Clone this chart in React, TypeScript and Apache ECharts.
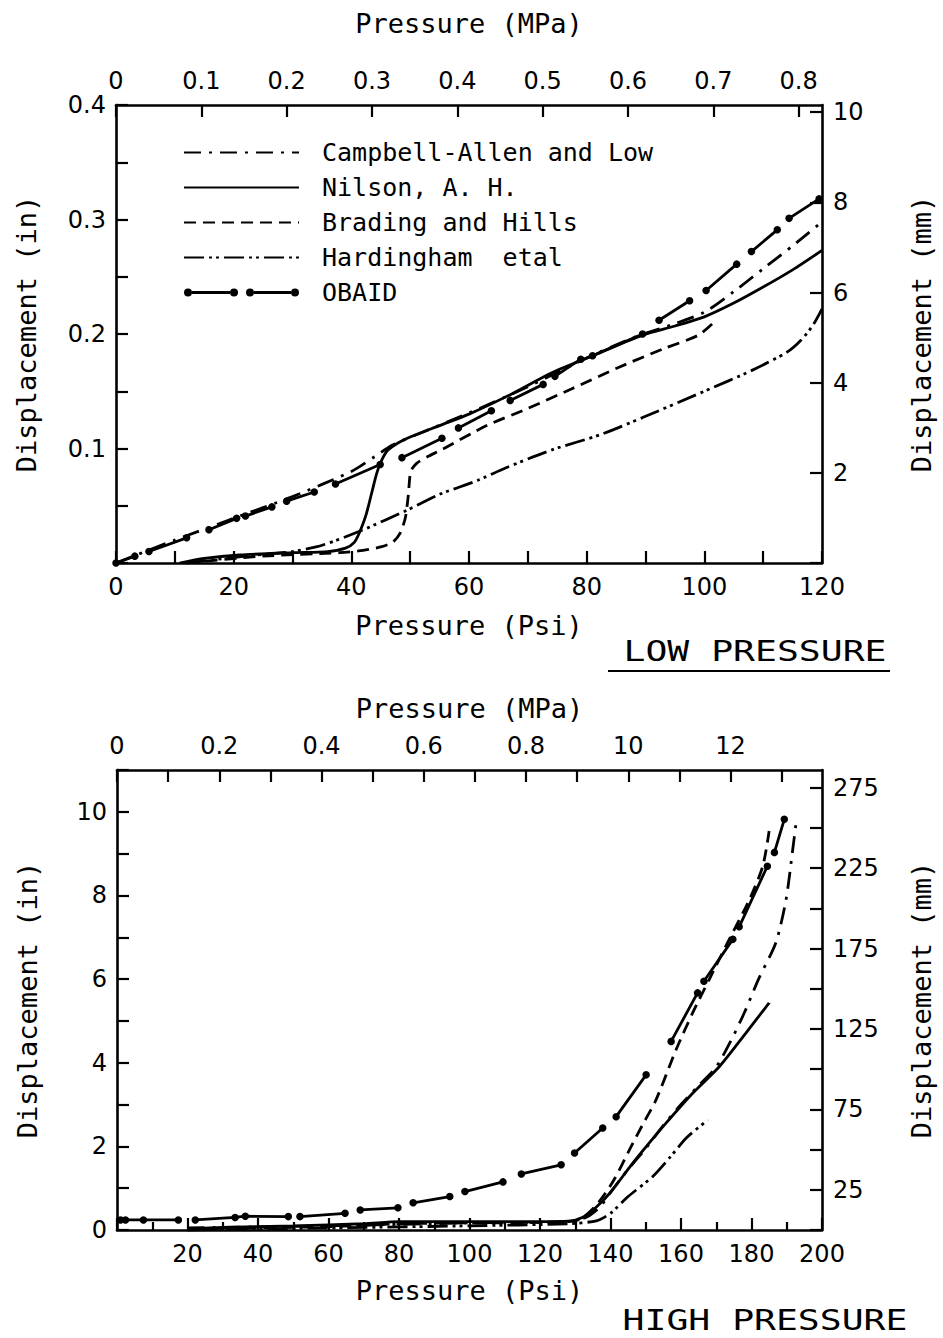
import React, { useEffect, useRef } from "react";
import * as echarts from "echarts";

// ---------- constants ----------
const PSI_PER_MPA = 145.038;
const MM_PER_IN = 25.4;

const seriesNames = [
  "Campbell-Allen and Low",
  "Nilson, A. H.",
  "Brading and Hills",
  "Hardingham  etal",
  "OBAID",
];

// axis ranges
const lowPsiMax = 120;
const lowInMax = 0.4;
const highPsiMax = 200;
const highInMax = 11;
const highMmMax = 286;

// tick labels
const lowMpaLabels = ["0", "0.1", "0.2", "0.3", "0.4", "0.5", "0.6", "0.7", "0.8"];
const highMpaLabels = ["0", "0.2", "0.4", "0.6", "0.8", "10", "12"];

// ---------- LOW PRESSURE data : [psi, in] ----------
const lowCampbell = [
  [0, 0], [10, 0.02], [20, 0.039], [30, 0.058], [40, 0.08], [44, 0.093], [47, 0.103],
  [52, 0.114], [60, 0.131], [70, 0.154], [80, 0.179], [88, 0.197], [95, 0.209],
  [100, 0.219], [105, 0.237], [110, 0.257], [115, 0.277], [120, 0.298],
];
const lowNilson = [
  [10.8, 0], [15, 0.004], [21, 0.007], [30, 0.009], [36, 0.01], [39, 0.013], [40.5, 0.018],
  [41.5, 0.028], [42.5, 0.042], [43.5, 0.062], [44.3, 0.078], [45, 0.088], [46.1, 0.098],
  [48, 0.105], [50, 0.11], [55, 0.12], [60, 0.13], [67, 0.147], [74, 0.166], [81.5, 0.182],
  [89.5, 0.199], [95, 0.207], [100, 0.215], [105, 0.227], [110, 0.241], [115, 0.256], [120, 0.273],
];
const lowBrading = [
  [12, 0], [25, 0.006], [38, 0.009], [42, 0.011], [45, 0.014], [47, 0.018], [48.3, 0.026],
  [49.2, 0.04], [49.7, 0.06], [50.1, 0.08], [51.1, 0.087], [53, 0.093], [55, 0.098],
  [63, 0.12], [70, 0.135], [77.4, 0.152], [85.5, 0.171], [93, 0.187], [99, 0.199], [102, 0.212],
];
const lowHardingham = [
  [12, 0], [22, 0.006], [30, 0.01], [34, 0.014], [37, 0.019], [42, 0.029], [49.4, 0.046],
  [55, 0.06], [61.4, 0.072], [66.2, 0.083], [74.2, 0.099], [82.3, 0.112], [89.5, 0.127],
  [100, 0.15], [108, 0.168], [114, 0.184], [116.5, 0.195], [118.5, 0.208], [120, 0.222],
];
// null = gap between the dotted segments
const lowObaid = [
  [0, 0], [3.2, 0.006], null,
  [5.6, 0.01], [12, 0.022], null,
  [15.8, 0.029], [20.5, 0.039], null,
  [22, 0.041], [26.5, 0.049], null,
  [29, 0.054], [33.7, 0.062], null,
  [37.3, 0.069], [44.9, 0.086], null,
  [48.6, 0.092], [55.4, 0.109], null,
  [58.2, 0.118], [63.8, 0.133], null,
  [67, 0.142], [72.6, 0.156], null,
  [74.6, 0.163], [79, 0.178], null,
  [81, 0.181], [89.5, 0.2], null,
  [92.3, 0.212], [97.5, 0.229], null,
  [100.3, 0.238], [105.5, 0.261], null,
  [108, 0.272], [112.4, 0.291], null,
  [114.4, 0.301], [119.5, 0.318],
];

// ---------- HIGH PRESSURE data : [psi, in] ----------
const highCampbell = [
  [20, 0.05], [60, 0.1], [100, 0.17], [128, 0.2], [133, 0.3], [137, 0.55], [140, 0.9],
  [145, 1.45], [150, 1.95], [155, 2.5], [160, 3.0], [165, 3.45], [170, 3.9], [174, 4.5],
  [178, 5.2], [182, 6.0], [186.9, 6.87], [189.8, 7.9], [191.7, 9.1], [192.6, 9.7],
];
const highNilson = [
  [20, 0.02], [30, 0.06], [50, 0.1], [70, 0.15], [80, 0.2], [100, 0.2], [120, 0.2],
  [128, 0.21], [132, 0.3], [136, 0.55], [140, 0.9], [145.4, 1.5], [150, 1.98],
  [155.8, 2.56], [163.3, 3.27], [170.9, 3.91], [178.4, 4.71], [185, 5.43],
];
const highBrading = [
  [20, 0], [40, 0.05], [60, 0.08], [80, 0.15], [100, 0.17], [120, 0.18], [130, 0.22],
  [133, 0.35], [137, 0.7], [141, 1.2], [145.4, 1.92], [149, 2.5], [152.9, 3.11],
  [158.6, 4.31], [163.3, 5.19], [168, 5.99], [173.2, 6.87], [179.4, 7.9], [183.2, 8.7], [185, 9.54],
];
const highHardingham = [
  [20, 0], [60, 0.05], [100, 0.1], [128, 0.15], [136, 0.22], [140, 0.4], [145, 0.8],
  [152, 1.28], [157, 1.75], [161.5, 2.2], [167.6, 2.63],
];
const highObaid = [
  [1, 0.24], [2.4, 0.24], [7.5, 0.24], [17.4, 0.24], null,
  [22.2, 0.24], [33.5, 0.3], [36.4, 0.33], [48.6, 0.32], null,
  [51.9, 0.32], [64.7, 0.4], null,
  [69, 0.48], [79.7, 0.53], null,
  [84, 0.65], [94.4, 0.8], null,
  [98.7, 0.92], [109.5, 1.15], null,
  [114.7, 1.34], [126, 1.56], null,
  [129.8, 1.84], [137.8, 2.44], null,
  [141.6, 2.71], [150.1, 3.71], null,
  [157.2, 4.51], [164.7, 5.67], null,
  [166.5, 5.95], [174.7, 6.95], null,
  [176.5, 7.25], [184.5, 8.7], null,
  [186.5, 9.03], [189.3, 9.82],
];

// ---------- styles ----------
const BLACK = "#000";
const FONT = "DejaVu Sans";
const MONO = "DejaVu Sans Mono";
const dashCampbell = [17, 8, 3, 8];
const dashBrading = [12, 7];
const dashHardingham = [20, 5, 3, 4, 3, 5];
const LW = 2.8;

const obaidIcon =
  "path://M0,4a4,4 0 1,0 8,0a4,4 0 1,0 -8,0Z M46,4a4,4 0 1,0 8,0a4,4 0 1,0 -8,0Z " +
  "M62,4a4,4 0 1,0 8,0a4,4 0 1,0 -8,0Z M107,4a4,4 0 1,0 8,0a4,4 0 1,0 -8,0Z " +
  "M8,2.6L46,2.6L46,5.4L8,5.4Z M70,2.6L107,2.6L107,5.4L70,5.4Z";

function toPairs(d: any[]) {
  return d.map((p) => (p === null ? [null, null] : p));
}

function curve(name: string, data: any[], xi: number, yi: number, type: any) {
  return {
    name,
    type: "line",
    xAxisIndex: xi,
    yAxisIndex: yi,
    data,
    symbol: "none",
    showSymbol: false,
    smooth: 0.25,
    lineStyle: { color: BLACK, width: LW, type, cap: "butt" },
    itemStyle: { color: BLACK },
    emphasis: { disabled: true },
  };
}

function obaid(data: any[], xi: number, yi: number) {
  return {
    name: seriesNames[4],
    type: "line",
    xAxisIndex: xi,
    yAxisIndex: yi,
    data: toPairs(data),
    symbol: "circle",
    symbolSize: 7.5,
    showSymbol: true,
    connectNulls: false,
    smooth: false,
    lineStyle: { color: BLACK, width: LW, type: "solid" },
    itemStyle: { color: BLACK, borderWidth: 0 },
    emphasis: { disabled: true },
  };
}

const axisLine = { show: true, onZero: false, lineStyle: { color: BLACK, width: 2.6 } };
const tick = (len: number) => ({ show: true, inside: true, length: len, lineStyle: { color: BLACK, width: 2.2 } });
const minor = (len: number) => ({ show: true, splitNumber: 2, length: len, lineStyle: { color: BLACK, width: 2.2 } });
const lbl = (formatter: any, margin: number) => ({
  show: true,
  color: BLACK,
  fontFamily: FONT,
  fontSize: 24,
  margin,
  formatter,
  showMaxLabel: true,
  showMinLabel: true,
  hideOverlap: false,
});
const nameStyle = { color: BLACK, fontFamily: MONO, fontSize: 27 };
const near = (a: number, b: number) => Math.abs(a - b) < 1e-6;

const lineOnly = { itemStyle: { opacity: 0 } };

const option: any = {
  animation: false,
  backgroundColor: "#fff",
  grid: [
    { left: 116, top: 105, width: 706, height: 458, containLabel: false },
    { left: 117, top: 770, width: 706, height: 460, containLabel: false },
  ],
  xAxis: [
    {
      gridIndex: 0, type: "value", position: "bottom", min: 0, max: lowPsiMax, interval: 20,
      axisLine, axisTick: tick(12), minorTick: minor(12), splitLine: { show: false },
      axisLabel: lbl((v: number) => String(v), 12),
      name: "Pressure (Psi)", nameLocation: "middle", nameGap: 49, nameTextStyle: nameStyle,
    },
    {
      gridIndex: 0, type: "value", position: "top", min: 0, max: lowPsiMax / PSI_PER_MPA, interval: 0.1,
      axisLine, axisTick: tick(12), splitLine: { show: false },
      axisLabel: {
        ...lbl((v: number) => {
          const i = Math.round(v / 0.1);
          return near(v, i * 0.1) && i < lowMpaLabels.length ? lowMpaLabels[i] : "";
        }, 12),
        showMaxLabel: false,
      },
      name: "Pressure (MPa)", nameLocation: "middle", nameGap: 68, nameTextStyle: nameStyle,
    },
    {
      gridIndex: 1, type: "value", position: "bottom", min: 0, max: highPsiMax, interval: 20,
      axisLine, axisTick: tick(12), minorTick: minor(8), splitLine: { show: false },
      axisLabel: lbl((v: number) => (v === 0 ? "" : String(v)), 12),
      name: "Pressure (Psi)", nameLocation: "middle", nameGap: 47, nameTextStyle: nameStyle,
    },
    {
      gridIndex: 1, type: "value", position: "top", min: 0, max: highPsiMax / PSI_PER_MPA, interval: 0.1,
      axisLine, axisTick: tick(12), splitLine: { show: false },
      axisLabel: {
        ...lbl((v: number) => {
          const i = Math.round(v / 0.2);
          return near(v, i * 0.2) && i < highMpaLabels.length ? highMpaLabels[i] : "";
        }, 12),
        showMaxLabel: false,
      },
      name: "Pressure (MPa)", nameLocation: "middle", nameGap: 48, nameTextStyle: nameStyle,
    },
  ],
  yAxis: [
    {
      gridIndex: 0, type: "value", position: "left", min: 0, max: lowInMax, interval: 0.1,
      axisLine, axisTick: tick(12), minorTick: minor(12), splitLine: { show: false },
      axisLabel: lbl((v: number) => (v === 0 ? "" : v.toFixed(1)), 10),
      name: "Displacement (in)", nameLocation: "middle", nameGap: 76, nameTextStyle: nameStyle,
    },
    {
      gridIndex: 0, type: "value", position: "right", min: 0, max: lowInMax * MM_PER_IN, interval: 2,
      axisLine, axisTick: tick(12), splitLine: { show: false },
      axisLabel: {
        ...lbl((v: number) => (v === 0 || !near(v, Math.round(v)) ? "" : String(v)), 11),
        showMaxLabel: false,
      },
      name: "Displacement (mm)", nameLocation: "middle", nameGap: 86, nameTextStyle: nameStyle,
    },
    {
      gridIndex: 1, type: "value", position: "left", min: 0, max: highInMax, interval: 2,
      axisLine, axisTick: tick(12), minorTick: minor(12), splitLine: { show: false },
      axisLabel: { ...lbl((v: number) => String(v), 10), showMaxLabel: false },
      name: "Displacement (in)", nameLocation: "middle", nameGap: 76, nameTextStyle: nameStyle,
    },
    {
      gridIndex: 1, type: "value", position: "right", min: 0, max: highMmMax, interval: 25,
      axisLine, axisTick: tick(12), splitLine: { show: false },
      axisLabel: {
        ...lbl((v: number) => (near(v % 50, 25) ? String(v) : ""), 11),
        showMaxLabel: false,
      },
      name: "Displacement (mm)", nameLocation: "middle", nameGap: 86, nameTextStyle: nameStyle,
    },
  ],
  legend: {
    show: true,
    orient: "vertical",
    left: 178,
    top: 135,
    itemWidth: 115,
    itemHeight: 8,
    itemGap: 10,
    selectedMode: false,
    textStyle: { color: BLACK, fontFamily: MONO, fontSize: 25, padding: [0, 0, 0, 18] },
    data: [
      { name: seriesNames[0], ...lineOnly },
      { name: seriesNames[1], ...lineOnly },
      { name: seriesNames[2], ...lineOnly },
      { name: seriesNames[3], ...lineOnly },
      { name: seriesNames[4], icon: obaidIcon },
    ],
  },
  graphic: [
    {
      type: "text", x: 755, y: 652, scaleX: 1.3,
      style: {
        text: "LOW PRESSURE", fill: BLACK, font: `28px "${MONO}"`,
        textAlign: "center", textVerticalAlign: "middle", align: "center", verticalAlign: "middle",
      },
    },
    { type: "line", shape: { x1: 608, y1: 671, x2: 890, y2: 671 }, style: { stroke: BLACK, lineWidth: 2.2 } },
    {
      type: "text", x: 765, y: 1321, scaleX: 1.3,
      style: {
        text: "HIGH PRESSURE", fill: BLACK, font: `28px "${MONO}"`,
        textAlign: "center", textVerticalAlign: "middle", align: "center", verticalAlign: "middle",
      },
    },
  ],
  series: [
    curve(seriesNames[0], lowCampbell, 0, 0, dashCampbell),
    curve(seriesNames[1], lowNilson, 0, 0, "solid"),
    curve(seriesNames[2], lowBrading, 0, 0, dashBrading),
    curve(seriesNames[3], lowHardingham, 0, 0, dashHardingham),
    obaid(lowObaid, 0, 0),
    curve(seriesNames[0], highCampbell, 2, 2, dashCampbell),
    curve(seriesNames[1], highNilson, 2, 2, "solid"),
    curve(seriesNames[2], highBrading, 2, 2, dashBrading),
    curve(seriesNames[3], highHardingham, 2, 2, dashHardingham),
    obaid(highObaid, 2, 2),
  ],
};

export default function App() {
  const ref = useRef<HTMLDivElement>(null);
  useEffect(() => {
    document.body.style.margin = "0";
    const chart = echarts.init(ref.current as HTMLDivElement, null, { renderer: "svg" });
    chart.setOption(option);
    return () => {
      chart.dispose();
    };
  }, []);
  return (
    <div
      ref={ref}
      style={{ position: "absolute", left: 0, top: 0, width: 943, height: 1338, background: "#fff" }}
    />
  );
}
